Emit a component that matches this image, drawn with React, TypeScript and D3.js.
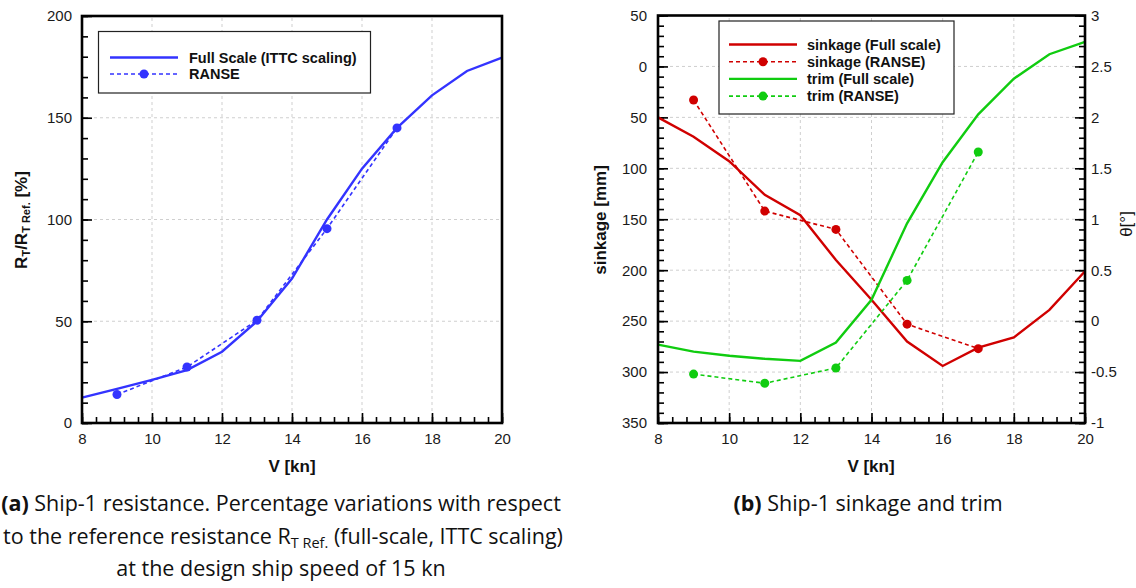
import React, { useEffect, useRef } from "react";
import * as d3 from "d3";

// Ship speed [kn]
const SPEED = [8, 9, 10, 11, 12, 13, 14, 15, 16, 17, 18, 19, 20];
const SPEED_RANSE = [9, 11, 13, 15, 17];

// Resistance relative to the reference at 15 kn [%]
const RESISTANCE_FULL = [12.5, 16.8, 21.2, 26, 35, 50, 71, 100, 125, 145, 161, 173, 179.5];
const RESISTANCE_RANSE = [14, 27.5, 50.5, 95.5, 145];

// Sinkage [mm] and trim [deg]
const SINKAGE_FULL = [50, 69, 93, 126, 146, 190, 229, 270, 294, 276, 266, 239, 201];
const SINKAGE_RANSE = [33, 142, 160, 253, 277];
const TRIM_FULL = [-0.23, -0.3, -0.34, -0.37, -0.39, -0.21, 0.21, 0.96, 1.56, 2.03, 2.38, 2.62, 2.74];
const TRIM_RANSE = [-0.52, -0.61, -0.46, 0.4, 1.66];

// Tick values
const SPEED_TICKS = [8, 10, 12, 14, 16, 18, 20];
const RESISTANCE_TICKS = [0, 50, 100, 150, 200];
const SINKAGE_TICKS = [-50, 0, 50, 100, 150, 200, 250, 300, 350];
const TRIM_TICKS = [-1, -0.5, 0, 0.5, 1, 1.5, 2, 2.5, 3];

const BLUE = "#3333ff";
const RED = "#d00000";
const GREEN = "#10cc10";
const TICK_FONT = "'Liberation Sans', Arial, sans-serif";
const CAPTION_FONT = "'Liberation Sans Narrow', 'Open Sans', sans-serif";

type Sel = d3.Selection<SVGGElement, unknown, null, undefined>;

function minorValues(lo: number, hi: number, step: number) {
  const n = Math.round((hi - lo) / step);
  return d3.range(n + 1).map((i) => +(lo + i * step).toFixed(6));
}

function styleAxis(g: Sel) {
  g.select(".domain").remove();
  g.selectAll(".tick line").attr("stroke", "#000").attr("stroke-width", 1.6);
  g.selectAll(".tick text")
    .attr("fill", "#1a1a1a")
    .style("font-family", TICK_FONT)
    .style("font-size", "15px");
}

function drawGrid(
  g: Sel,
  x: d3.ScaleLinear<number, number>,
  y: d3.ScaleLinear<number, number>,
  xs: number[],
  ys: number[]
) {
  const [x0, x1] = x.range();
  const [y0, y1] = y.range();
  g.append("g")
    .selectAll("line")
    .data(xs)
    .join("line")
    .attr("x1", (d) => x(d))
    .attr("x2", (d) => x(d))
    .attr("y1", y0)
    .attr("y2", y1)
    .attr("stroke", "#cfcfcf")
    .attr("stroke-dasharray", "3,3");
  g.append("g")
    .selectAll("line")
    .data(ys)
    .join("line")
    .attr("x1", x0)
    .attr("x2", x1)
    .attr("y1", (d) => y(d))
    .attr("y2", (d) => y(d))
    .attr("stroke", "#cfcfcf")
    .attr("stroke-dasharray", "3,3");
}

function drawSeries(
  g: Sel,
  xs: number[],
  ys: number[],
  x: d3.ScaleLinear<number, number>,
  y: d3.ScaleLinear<number, number>,
  color: string,
  dashed: boolean
) {
  const pts = xs.map((v, i) => [v, ys[i]] as [number, number]);
  const line = d3
    .line<[number, number]>()
    .x((d) => x(d[0]))
    .y((d) => y(d[1]));
  g.append("path")
    .attr("d", line(pts))
    .attr("fill", "none")
    .attr("stroke", color)
    .attr("stroke-width", dashed ? 1.6 : 2.4)
    .attr("stroke-dasharray", dashed ? "4,3" : null);
  if (dashed) {
    g.append("g")
      .selectAll("circle")
      .data(pts)
      .join("circle")
      .attr("cx", (d) => x(d[0]))
      .attr("cy", (d) => y(d[1]))
      .attr("r", 4.5)
      .attr("fill", color);
  }
}

function drawLegend(
  g: Sel,
  box: { x: number; y: number; w: number; h: number },
  rows: { label: string; color: string; dashed: boolean }[],
  sample: { x0: number; x1: number; tx: number; y0: number; dy: number }
) {
  g.append("rect")
    .attr("x", box.x)
    .attr("y", box.y)
    .attr("width", box.w)
    .attr("height", box.h)
    .attr("fill", "#fff")
    .attr("stroke", "#222")
    .attr("stroke-width", 1.2);
  rows.forEach((r, i) => {
    const yy = sample.y0 + i * sample.dy;
    g.append("line")
      .attr("x1", sample.x0)
      .attr("x2", sample.x1)
      .attr("y1", yy)
      .attr("y2", yy)
      .attr("stroke", r.color)
      .attr("stroke-width", r.dashed ? 1.6 : 2.4)
      .attr("stroke-dasharray", r.dashed ? "4,3" : null);
    if (r.dashed) {
      g.append("circle")
        .attr("cx", (sample.x0 + sample.x1) / 2)
        .attr("cy", yy)
        .attr("r", 4.5)
        .attr("fill", r.color);
    }
    g.append("text")
      .attr("x", sample.tx)
      .attr("y", yy)
      .attr("dy", "0.36em")
      .attr("fill", "#111")
      .style("font-family", TICK_FONT)
      .style("font-weight", "bold")
      .style("font-size", "14.5px")
      .text(r.label);
  });
}

function drawFrame(g: Sel, x: d3.ScaleLinear<number, number>, y: d3.ScaleLinear<number, number>) {
  const [x0, x1] = x.range();
  const [y0, y1] = y.range();
  g.append("rect")
    .attr("x", x0)
    .attr("y", y1)
    .attr("width", x1 - x0)
    .attr("height", y0 - y1)
    .attr("fill", "none")
    .attr("stroke", "#000")
    .attr("stroke-width", 2.6);
}

function speedAxis(g: Sel, x: d3.ScaleLinear<number, number>, yPos: number) {
  g.append("g")
    .attr("transform", `translate(0,${yPos})`)
    .call(d3.axisBottom(x).tickValues(minorValues(8, 20, 0.4)).tickSize(-6).tickFormat(() => ""))
    .call(styleAxis);
  g.append("g")
    .attr("transform", `translate(0,${yPos})`)
    .call(d3.axisBottom(x).tickValues(SPEED_TICKS).tickSize(-10).tickPadding(10).tickFormat(d3.format("d")))
    .call(styleAxis);
}

function axisTitle(g: Sel, x: number, y: number, rotate: boolean, bold: boolean) {
  return g
    .append("text")
    .attr("transform", `translate(${x},${y})${rotate ? " rotate(-90)" : ""}`)
    .attr("text-anchor", "middle")
    .attr("dy", "0.36em")
    .attr("fill", "#111")
    .style("font-family", TICK_FONT)
    .style("font-weight", bold ? "bold" : "normal")
    .style("font-size", "17px");
}

export default function App() {
  const ref = useRef<SVGSVGElement>(null);

  useEffect(() => {
    const svg = d3.select(ref.current);
    svg.selectAll("*").remove();
    const root = svg.append("g") as unknown as Sel;

    // ---------- (a) resistance ----------
    const xa = d3.scaleLinear().domain([8, 20]).range([82, 502]);
    const ya = d3.scaleLinear().domain([0, 200]).range([423, 16]);
    const ga = root.append("g");
    drawGrid(ga, xa, ya, [10, 12, 14, 16, 18], [50, 100, 150]);
    speedAxis(ga, xa, 423);
    ga.append("g")
      .attr("transform", "translate(82,0)")
      .call(d3.axisLeft(ya).tickValues(minorValues(0, 200, 10)).tickSize(-6).tickFormat(() => ""))
      .call(styleAxis);
    ga.append("g")
      .attr("transform", "translate(82,0)")
      .call(d3.axisLeft(ya).tickValues(RESISTANCE_TICKS).tickSize(-10).tickPadding(10).tickFormat(d3.format("d")))
      .call(styleAxis);
    drawSeries(ga, SPEED, RESISTANCE_FULL, xa, ya, BLUE, false);
    drawSeries(ga, SPEED_RANSE, RESISTANCE_RANSE, xa, ya, BLUE, true);
    drawFrame(ga, xa, ya);
    drawLegend(
      ga,
      { x: 98.5, y: 31.5, w: 272, h: 61.5 },
      [
        { label: "Full Scale (ITTC scaling)", color: BLUE, dashed: false },
        { label: "RANSE", color: BLUE, dashed: true },
      ],
      { x0: 110, x1: 178, tx: 189, y0: 57.5, dy: 16.5 }
    );
    axisTitle(ga, 292, 466, false, true).text("V [kn]");
    const ta = axisTitle(ga, 21, 220, true, true);
    ta.append("tspan").text("R");
    ta.append("tspan").attr("baseline-shift", "-30%").style("font-size", "11px").text("T");
    ta.append("tspan").text("/R");
    ta.append("tspan").attr("baseline-shift", "-30%").style("font-size", "11px").text("T Ref.");
    ta.append("tspan").text(" [%]");

    // ---------- (b) sinkage and trim ----------
    const xb = d3.scaleLinear().domain([8, 20]).range([658, 1085]);
    const ys = d3.scaleLinear().domain([-50, 350]).range([15.5, 423]);
    const yt = d3.scaleLinear().domain([-1, 3]).range([423, 15.5]);
    const gb = root.append("g");
    drawGrid(gb, xb, yt, [10, 12, 14, 16, 18], TRIM_TICKS.slice(1, -1));
    speedAxis(gb, xb, 423);
    gb.append("g")
      .attr("transform", "translate(658,0)")
      .call(d3.axisLeft(ys).tickValues(minorValues(-50, 350, 10)).tickSize(-6).tickFormat(() => ""))
      .call(styleAxis);
    gb.append("g")
      .attr("transform", "translate(658,0)")
      .call(
        d3
          .axisLeft(ys)
          .tickValues(SINKAGE_TICKS)
          .tickSize(-10)
          .tickPadding(11)
          .tickFormat((d) => String(Math.abs(+d)))
      )
      .call(styleAxis);
    gb.append("g")
      .attr("transform", "translate(1085,0)")
      .call(d3.axisRight(yt).tickValues(minorValues(-1, 3, 0.1)).tickSize(-6).tickFormat(() => ""))
      .call(styleAxis);
    gb.append("g")
      .attr("transform", "translate(1085,0)")
      .call(d3.axisRight(yt).tickValues(TRIM_TICKS).tickSize(-10).tickPadding(6).tickFormat((d) => String(+d)))
      .call(styleAxis);
    drawSeries(gb, SPEED, SINKAGE_FULL, xb, ys, RED, false);
    drawSeries(gb, SPEED_RANSE, SINKAGE_RANSE, xb, ys, RED, true);
    drawSeries(gb, SPEED, TRIM_FULL, xb, yt, GREEN, false);
    drawSeries(gb, SPEED_RANSE, TRIM_RANSE, xb, yt, GREEN, true);
    drawFrame(gb, xb, yt);
    drawLegend(
      gb,
      { x: 719, y: 21, w: 235, h: 93 },
      [
        { label: "sinkage (Full scale)", color: RED, dashed: false },
        { label: "sinkage (RANSE)", color: RED, dashed: true },
        { label: "trim (Full scale)", color: GREEN, dashed: false },
        { label: "trim (RANSE)", color: GREEN, dashed: true },
      ],
      { x0: 729, x1: 797, tx: 807, y0: 44.5, dy: 17.2 }
    );
    axisTitle(gb, 871, 466, false, true).text("V [kn]");
    axisTitle(gb, 600, 220, true, true).text("sinkage [mm]");
    axisTitle(gb, 1126, 224, true, false).text("θ[°]");

    // ---------- captions ----------
    const caption = (x: number, y: number) =>
      root
        .append("text")
        .attr("x", x)
        .attr("y", y)
        .attr("dy", "0.35em")
        .attr("text-anchor", "middle")
        .attr("fill", "#111")
        .style("font-family", CAPTION_FONT)
        .style("font-size", "21.5px");

    const c1 = caption(281, 503);
    c1.append("tspan").style("font-weight", "bold").text("(a)");
    c1.append("tspan").text(" Ship-1 resistance. Percentage variations with respect");

    const c2 = caption(283, 536);
    c2.append("tspan").text("to the reference resistance R");
    c2.append("tspan").attr("baseline-shift", "-25%").style("font-size", "14.5px").text("T Ref.");
    c2.append("tspan").text(" (full-scale, ITTC scaling)");

    caption(281, 568).text("at the design ship speed of 15 kn");

    const c4 = caption(868, 503);
    c4.append("tspan").style("font-weight", "bold").text("(b)");
    c4.append("tspan").text(" Ship-1 sinkage and trim");
  }, []);

  return (
    <svg
      ref={ref}
      width={1136}
      height={588}
      style={{ position: "absolute", left: 0, top: 0, display: "block", background: "#fff" }}
    />
  );
}
